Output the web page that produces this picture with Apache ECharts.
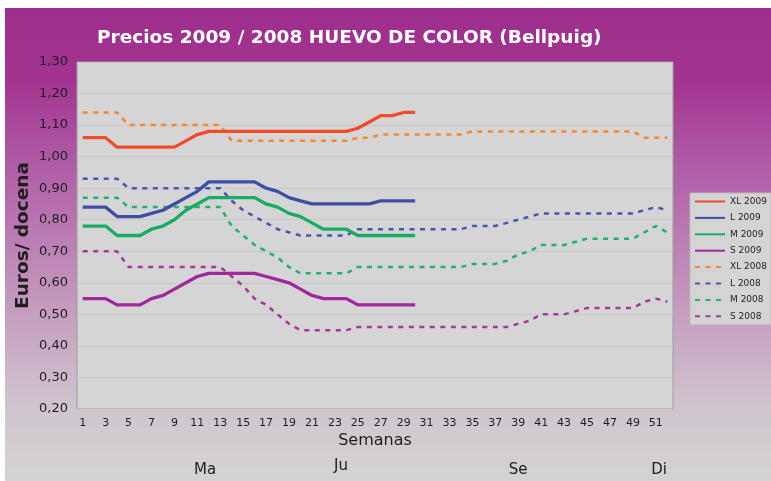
<!DOCTYPE html>
<html>
<head>
<meta charset="utf-8">
<script src="https://cdn.jsdelivr.net/npm/echarts@6/dist/echarts.min.js"></script>
<style>
html,body{margin:0;padding:0;background:#fff;}
#wrap{position:relative;width:771px;height:481px;overflow:hidden;}
#bg{position:absolute;left:5px;top:8px;right:0;bottom:0;
background:linear-gradient(to bottom,#9E2E8D 0%,#A2348F 15%,#AD55A4 30%,#BC80B4 50%,#C8A9C4 70%,#D0C6CE 85%,#D4D3D4 100%);}
#chart{position:absolute;left:0;top:0;width:771px;height:481px;}
</style>
</head>
<body>
<div id="wrap"><div id="bg"></div><div id="chart"></div></div>
<script>
const weeks = ['1','2','3','4','5','6','7','8','9','10','11','12','13','14','15','16','17','18','19','20','21','22','23','24','25','26','27','28','29','30','31','32','33','34','35','36','37','38','39','40','41','42','43','44','45','46','47','48','49','50','51','52'];

const xl2009 = [1.06,1.06,1.06,1.03,1.03,1.03,1.03,1.03,1.03,1.05,1.07,1.08,1.08,1.08,1.08,1.08,1.08,1.08,1.08,1.08,1.08,1.08,1.08,1.08,1.09,1.11,1.13,1.13,1.14,1.14];
const l2009  = [0.84,0.84,0.84,0.81,0.81,0.81,0.82,0.83,0.85,0.87,0.89,0.92,0.92,0.92,0.92,0.92,0.90,0.89,0.87,0.86,0.85,0.85,0.85,0.85,0.85,0.85,0.86,0.86,0.86,0.86];
const m2009  = [0.78,0.78,0.78,0.75,0.75,0.75,0.77,0.78,0.80,0.83,0.85,0.87,0.87,0.87,0.87,0.87,0.85,0.84,0.82,0.81,0.79,0.77,0.77,0.77,0.75,0.75,0.75,0.75,0.75,0.75];
const s2009  = [0.55,0.55,0.55,0.53,0.53,0.53,0.55,0.56,0.58,0.60,0.62,0.63,0.63,0.63,0.63,0.63,0.62,0.61,0.60,0.58,0.56,0.55,0.55,0.55,0.53,0.53,0.53,0.53,0.53,0.53];

const xl2008 = [1.14,1.14,1.14,1.14,1.10,1.10,1.10,1.10,1.10,1.10,1.10,1.10,1.10,1.05,1.05,1.05,1.05,1.05,1.05,1.05,1.05,1.05,1.05,1.05,1.06,1.06,1.07,1.07,1.07,1.07,1.07,1.07,1.07,1.07,1.08,1.08,1.08,1.08,1.08,1.08,1.08,1.08,1.08,1.08,1.08,1.08,1.08,1.08,1.08,1.06,1.06,1.06];
const l2008  = [0.93,0.93,0.93,0.93,0.90,0.90,0.90,0.90,0.90,0.90,0.90,0.90,0.90,0.86,0.83,0.81,0.79,0.77,0.76,0.75,0.75,0.75,0.75,0.75,0.77,0.77,0.77,0.77,0.77,0.77,0.77,0.77,0.77,0.77,0.78,0.78,0.78,0.79,0.80,0.81,0.82,0.82,0.82,0.82,0.82,0.82,0.82,0.82,0.82,0.83,0.84,0.83];
const m2008  = [0.87,0.87,0.87,0.87,0.84,0.84,0.84,0.84,0.84,0.84,0.84,0.84,0.84,0.78,0.75,0.72,0.70,0.68,0.65,0.63,0.63,0.63,0.63,0.63,0.65,0.65,0.65,0.65,0.65,0.65,0.65,0.65,0.65,0.65,0.66,0.66,0.66,0.67,0.69,0.70,0.72,0.72,0.72,0.73,0.74,0.74,0.74,0.74,0.74,0.76,0.78,0.76];
const s2008  = [0.70,0.70,0.70,0.70,0.65,0.65,0.65,0.65,0.65,0.65,0.65,0.65,0.65,0.62,0.59,0.55,0.53,0.50,0.47,0.45,0.45,0.45,0.45,0.45,0.46,0.46,0.46,0.46,0.46,0.46,0.46,0.46,0.46,0.46,0.46,0.46,0.46,0.46,0.47,0.48,0.50,0.50,0.50,0.51,0.52,0.52,0.52,0.52,0.52,0.54,0.55,0.54];

const seriesNames = ['XL 2009','L 2009','M 2009','S 2009','XL 2008','L 2008','M 2008','S 2008'];
const monthLabels = ['Ma','Ju','Se','Di'];

const FONT = '"DejaVu Sans", Verdana, sans-serif';
const TXT = '#1e1e1e';

function solid(name, data, color) {
  return { name, type:'line', data, symbol:'none', z:4, smooth:false,
    lineStyle:{ color, width:3.3, cap:'butt', join:'round' }, itemStyle:{ color } };
}
function dashed(name, data, color) {
  return { name, type:'line', data, symbol:'none', z:3, smooth:false,
    lineStyle:{ color, width:2.5, type:[5,5.5], cap:'butt' }, itemStyle:{ color } };
}

const monthX = [205, 341, 518, 659];
const monthY = [470, 466, 470, 470];

const chart = echarts.init(document.getElementById('chart'), null, { renderer:'canvas' });
chart.setOption({
  backgroundColor:'transparent',
  animation:false,
  title:{
    text:'Precios 2009 / 2008 HUEVO DE COLOR (Bellpuig)',
    left:97, top:29, padding:0,
    textStyle:{ color:'#ffffff', fontSize:18.5, fontWeight:'bold', fontFamily:FONT }
  },
  grid:{
    left:77, right:98, top:62, bottom:72, show:true,
    backgroundColor:'#D5D5D5', borderColor:'#9C9C9C', borderWidth:1,
    containLabel:false, outerBoundsMode:'none'
  },
  legend:{
    orient:'vertical', left:690, top:193, padding:[4,4,4,4],
    itemWidth:30, itemHeight:10, itemGap:7.4,
    backgroundColor:'#D4D4D4', borderColor:'#BBBBBB', borderWidth:1,
    selectedMode:false,
    itemStyle:{ color:'rgba(0,0,0,0)', borderWidth:0, opacity:0 },
    textStyle:{ fontSize:9, color:TXT, fontFamily:FONT },
    data:seriesNames
  },
  xAxis:{
    type:'category', data:weeks, boundaryGap:true,
    axisLine:{ show:false }, axisTick:{ show:false },
    axisLabel:{ interval:1, fontSize:11, color:TXT, margin:9, fontFamily:FONT },
    splitLine:{ show:false },
    name:'Semanas', nameLocation:'middle', nameGap:24, nameMoveOverlap:false,
    nameTextStyle:{ fontSize:16, color:TXT, fontFamily:FONT }
  },
  yAxis:{
    type:'value', min:0.2, max:1.3, interval:0.1,
    axisLine:{ show:false }, axisTick:{ show:false },
    axisLabel:{ fontSize:13, color:TXT, margin:9, fontFamily:FONT,
      formatter:v => v.toFixed(2).replace('.', ',') },
    splitLine:{ show:true, lineStyle:{ color:'#C7C7C7', width:1 } },
    name:'Euros/ docena', nameLocation:'middle', nameGap:44, nameMoveOverlap:false,
    nameTextStyle:{ fontSize:18.5, fontWeight:'bold', color:TXT, fontFamily:FONT }
  },
  graphic: monthLabels.map((t, i) => ({
    type:'text', x:monthX[i], y:monthY[i], silent:true,
    style:{ text:t, fill:TXT, font:'15px ' + FONT, align:'center', verticalAlign:'middle' }
  })),
  series:[
    solid('XL 2009', xl2009, '#F04C28'),
    solid('L 2009',  l2009,  '#3D4FA5'),
    solid('M 2009',  m2009,  '#19AB64'),
    solid('S 2009',  s2009,  '#A1289A'),
    dashed('XL 2008', xl2008, '#F5862E'),
    dashed('L 2008',  l2008,  '#4656B1'),
    dashed('M 2008',  m2008,  '#20B36C'),
    dashed('S 2008',  s2008,  '#A9359F')
  ]
});
</script>
</body>
</html>
